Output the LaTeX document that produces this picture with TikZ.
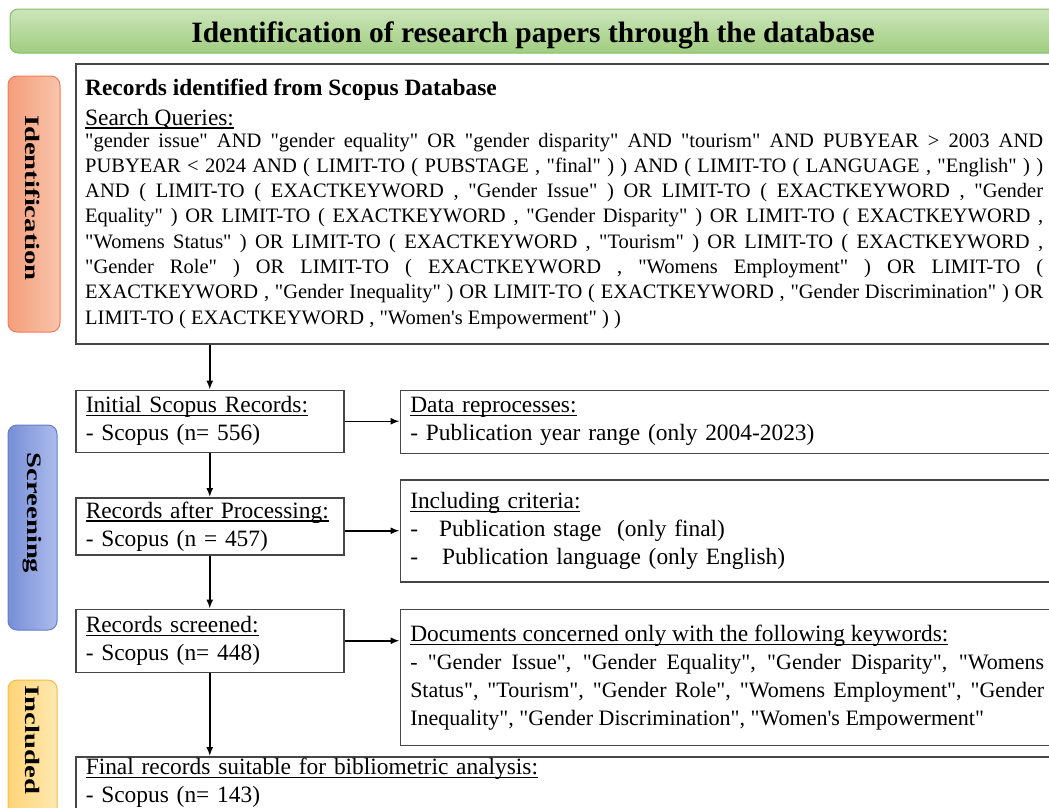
\documentclass[tikz,border=0pt]{standalone}
\usepackage{fontspec}
\setmainfont{Liberation Serif}[Ligatures=TeXOff]
\newfontfamily\sidefont[FakeStretch=1.4]{Liberation Serif}
\usetikzlibrary{positioning, arrows.meta}
\newcommand{\bxfont}{\fontsize{23.4pt}{28pt}\selectfont}
\newcommand{\kwfont}{\fontsize{22pt}{27pt}\selectfont}
\newcommand{\qfont}{\fontsize{20.5pt}{25.3pt}\selectfont}
\newcommand{\qline}[1]{\hbox to 958pt{#1}}
\newsavebox{\undlbox}
\newcommand{\undl}[1]{\sbox{\undlbox}{#1}\rlap{\rule[-3.5pt]{\wd\undlbox}{1.1pt}}\usebox{\undlbox}}
\definecolor{hdrtop}{RGB}{204,229,186}
\definecolor{hdrbot}{RGB}{160,205,128}
\definecolor{hdrline}{RGB}{135,190,100}
\definecolor{idleft}{RGB}{243,158,122}
\definecolor{idright}{RGB}{249,196,172}
\definecolor{idline}{RGB}{237,125,90}
\definecolor{scleft}{RGB}{120,142,214}
\definecolor{scright}{RGB}{172,188,236}
\definecolor{scline}{RGB}{100,125,200}
\definecolor{inleft}{RGB}{255,212,120}
\definecolor{inright}{RGB}{255,232,175}
\definecolor{inline}{RGB}{240,190,70}
\definecolor{boxline}{RGB}{70,70,70}

\begin{document}
\begin{tikzpicture}[x=1pt, y=1pt,
box/.style={draw=boxline, line width=1.5pt, fill=white, align=left, inner xsep=10pt, inner ysep=0pt, font=\bxfont},
txt/.style={inner sep=0pt},
arr/.style={-{Latex[length=9pt,width=7pt]}, line width=1.5pt},
sidelbl/.style={rotate=-90, font=\sidefont\bfseries\fontsize{20.5pt}{24pt}\selectfont}]
\useasboundingbox (0,0) rectangle (1049,-807);

\draw[rounded corners=8pt, top color=hdrtop, bottom color=hdrbot, draw=hdrline, line width=1pt] (10,-9) rectangle (1070,-53);
\node[txt, anchor=base, font=\fontsize{29.5pt}{32pt}\selectfont\bfseries] (hdr) at (533,-42) {Identification of research papers through the database};

\draw[rounded corners=9pt, left color=idleft, right color=idright, draw=idline, line width=1pt] (8,-76) rectangle (60,-332);
\draw[rounded corners=9pt, left color=scleft, right color=scright, draw=scline, line width=1pt] (8,-425) rectangle (57,-630);
\draw[rounded corners=9pt, left color=inleft, right color=inright, draw=inline, line width=1pt] (8,-680) rectangle (57,-830);
\node[sidelbl] (idlbl) at (33,-198) {Identification};
\node[sidelbl] (sclbl) at (32,-513) {Screening};
\node[sidelbl] (inlbl) at (32,-740) {Included};

\node[box, minimum width=978pt, minimum height=280pt, anchor=north west] (srch) at (75,-63) {};
\node[txt, anchor=base west, font=\fontsize{23.4pt}{28pt}\selectfont\bfseries] (ttl) at ([xshift=10pt, yshift=-32pt]srch.north west) {Records identified from Scopus Database};
\node[txt, font=\bxfont] (sq) [below=30pt of ttl.base west, anchor=base west] {\undl{Search Queries:}};
\node[txt, font=\qfont] (qry) [below=22pt of sq.base west, anchor=base west] {\vtop{%
\qline{"gender issue" AND "gender equality" OR "gender disparity" AND "tourism" AND PUBYEAR > 2003 AND}
\qline{PUBYEAR < 2024 AND ( LIMIT-TO ( PUBSTAGE , "final" ) ) AND ( LIMIT-TO ( LANGUAGE , "English" ) )}
\qline{AND ( LIMIT-TO ( EXACTKEYWORD , "Gender Issue" ) OR LIMIT-TO ( EXACTKEYWORD , "Gender}
\qline{Equality" ) OR LIMIT-TO ( EXACTKEYWORD , "Gender Disparity" ) OR LIMIT-TO ( EXACTKEYWORD ,}
\qline{"Womens Status" ) OR LIMIT-TO ( EXACTKEYWORD , "Tourism" ) OR LIMIT-TO ( EXACTKEYWORD ,}
\qline{"Gender Role" ) OR LIMIT-TO ( EXACTKEYWORD , "Womens Employment" ) OR LIMIT-TO (}
\qline{EXACTKEYWORD , "Gender Inequality" ) OR LIMIT-TO ( EXACTKEYWORD , "Gender Discrimination" ) OR}
\hbox{LIMIT-TO ( EXACTKEYWORD , "Women's Empowerment" ) )}}};

\node[box, text width=248pt, minimum height=62pt] (init) [below=45pt of srch.south west, anchor=north west] {\undl{Initial Scopus Records:}\\- Scopus (n= 556)};
\node[box, text width=248pt, minimum height=57pt] (proc) [below=44pt of init.south west, anchor=north west] {\undl{Records after Processing:}\\- Scopus (n = 457)};
\node[box, text width=248pt, minimum height=63pt] (scrd) [below=53pt of proc.south west, anchor=north west] {\undl{Records screened:}\\- Scopus (n= 448)};
\node[box, text width=958pt, minimum height=52pt] (finl) [below=83pt of scrd.south west, anchor=north west] {\undl{Final records suitable for bibliometric analysis:}\\- Scopus (n= 143)};

\node[box, text width=634pt, minimum height=63pt] (prep) [right=55pt of init.north east, anchor=north west] {\undl{Data reprocesses:}\\- Publication year range (only 2004-2023)};
\node[box, text width=634pt, minimum height=102pt] (incl) [below=25pt of prep.south west, anchor=north west] {\undl{Including criteria:}\\-\hspace{21pt}Publication stage\ \ (only final)\\-\hspace{24pt}Publication language (only English)};
\node[box, text width=634pt, minimum height=136pt, align=justify] (kwds) [below=26pt of incl.south west, anchor=north west] {\tolerance=10000 \hyphenpenalty=10000 \exhyphenpenalty=10000 \undl{Documents concerned only with the following keywords:}\\
{\kwfont - "Gender Issue", "Gender Equality", "Gender Disparity", "Womens\linebreak Status", "Tourism", "Gender Role", "Womens Employment", "Gender\linebreak Inequality", "Gender Discrimination", "Women's Empowerment"}};

\draw[arr] (init.north |- srch.south) -- (init.north);
\draw[arr] (init.south) -- (proc.north);
\draw[arr] (proc.south) -- (scrd.north);
\draw[arr] (scrd.south) -- (scrd.south |- finl.north);
\draw[arr] (init.east) -- (init.east -| prep.west);
\draw[arr] (incl.west -| proc.east) -- (incl.west);
\draw[arr] (scrd.east) -- (scrd.east -| kwds.west);
\end{tikzpicture}
\end{document}
